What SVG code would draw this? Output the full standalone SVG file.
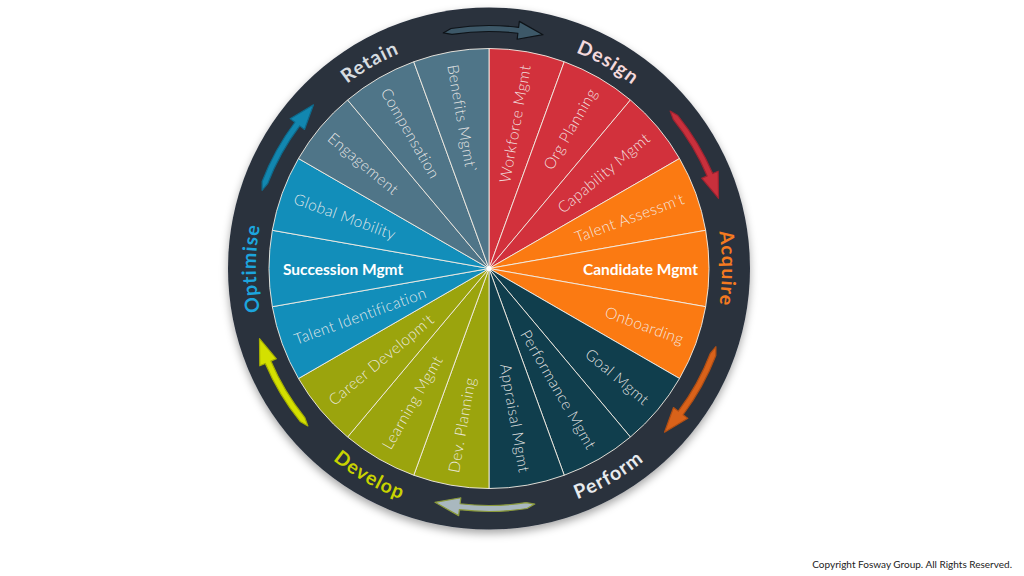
<svg xmlns="http://www.w3.org/2000/svg" xmlns:xlink="http://www.w3.org/1999/xlink" width="1024" height="576" viewBox="0 0 1024 576">
<defs>
<style>
.seg{stroke:#F4EEE6;stroke-width:1;stroke-opacity:0.9}
.lbl{font-family:Lato,"Open Sans",sans-serif;font-weight:300;font-size:15.5px;letter-spacing:0.4px;fill:#F4F0EE;fill-opacity:0.92;dominant-baseline:central}
.lblb{font-family:Lato,"Open Sans",sans-serif;font-weight:700;font-size:15.5px;fill:#FFFFFF;dominant-baseline:central}
.ring{font-family:Lato,"Open Sans",sans-serif;font-weight:700;font-size:19.5px;letter-spacing:1px}
.arw{stroke-width:1.2;stroke-linejoin:round}
</style>
<filter id="sh" x="-10%" y="-10%" width="120%" height="125%">
<feDropShadow dx="0" dy="4" stdDeviation="4" flood-color="#000" flood-opacity="0.35"/>
</filter>
<path id="arrow" d="M443.21,32.91 L450.99,28.49 A243,243 0 0 1 518.61,27.31 L519.35,21.36 L542.99,34.65 L517.15,39.22 L517.88,33.27 A237,237 0 0 0 451.93,34.42 Z"/>
<path id="pDesign" d="M489,35.5 A233,233 0 0 1 690.78,152"/>
<path id="pAcquire" d="M690.78,152 A233,233 0 0 1 690.78,385"/>
<path id="pOptimise" d="M287.22,385 A233,233 0 0 1 287.22,152"/>
<path id="pRetain" d="M287.22,152 A233,233 0 0 1 489,35.5"/>
<path id="pPerform" d="M489,515.5 A247,247 0 0 0 702.9,392"/>
<path id="pDevelop" d="M275.1,392 A247,247 0 0 0 489,515.5"/>
</defs>
<rect width="1024" height="576" fill="#FFFFFF"/>
<g id="ring">
<circle cx="489" cy="268.5" r="261" fill="#29313E" filter="url(#sh)"/>
</g>
<g id="design">
<path class="seg" fill="#D2313C" d="M489,268.5 L489,48.5 A220,220 0 0 1 564.24,61.77 Z"/>
<path class="seg" fill="#D2313C" d="M489,268.5 L564.24,61.77 A220,220 0 0 1 630.41,99.97 Z"/>
<path class="seg" fill="#D2313C" d="M489,268.5 L630.41,99.97 A220,220 0 0 1 679.53,158.5 Z"/>
<text class="lbl" x="696" y="268.5" text-anchor="end" transform="rotate(-80 489 268.5)">Workforce Mgmt</text>
<text class="lbl" x="696" y="268.5" text-anchor="end" transform="rotate(-60 489 268.5)">Org Planning</text>
<text class="lbl" x="696" y="268.5" text-anchor="end" transform="rotate(-40 489 268.5)">Capability Mgmt</text>
<text class="ring" fill="#F4D9DC" text-anchor="middle"><textPath href="#pDesign" startOffset="50%">Design</textPath></text>
</g>
<g id="acquire">
<path class="seg" fill="#FB7A12" d="M489,268.5 L679.53,158.5 A220,220 0 0 1 705.66,230.3 Z"/>
<path class="seg" fill="#FB7A12" d="M489,268.5 L705.66,230.3 A220,220 0 0 1 705.66,306.7 Z"/>
<path class="seg" fill="#FB7A12" d="M489,268.5 L705.66,306.7 A220,220 0 0 1 679.53,378.5 Z"/>
<text class="lbl" x="696" y="268.5" text-anchor="end" transform="rotate(-20 489 268.5)">Talent Assessm't</text>
<text class="lblb" x="698" y="268.5" text-anchor="end">Candidate Mgmt</text>
<text class="lbl" x="696" y="268.5" text-anchor="end" transform="rotate(20 489 268.5)">Onboarding</text>
<text class="ring" fill="#F47A20" text-anchor="middle"><textPath href="#pAcquire" startOffset="50%">Acquire</textPath></text>
</g>
<g id="perform">
<path class="seg" fill="#103E4D" d="M489,268.5 L679.53,378.5 A220,220 0 0 1 630.41,437.03 Z"/>
<path class="seg" fill="#103E4D" d="M489,268.5 L630.41,437.03 A220,220 0 0 1 564.24,475.23 Z"/>
<path class="seg" fill="#103E4D" d="M489,268.5 L564.24,475.23 A220,220 0 0 1 489,488.5 Z"/>
<text class="lbl" x="696" y="268.5" text-anchor="end" transform="rotate(40 489 268.5)">Goal Mgmt</text>
<text class="lbl" x="696" y="268.5" text-anchor="end" transform="rotate(60 489 268.5)">Performance Mgmt</text>
<text class="lbl" x="696" y="268.5" text-anchor="end" transform="rotate(80 489 268.5)">Appraisal Mgmt</text>
<text class="ring" fill="#E8EBEE" text-anchor="middle"><textPath href="#pPerform" startOffset="50%">Perform</textPath></text>
</g>
<g id="develop">
<path class="seg" fill="#9BA40D" d="M489,268.5 L489,488.5 A220,220 0 0 1 413.76,475.23 Z"/>
<path class="seg" fill="#9BA40D" d="M489,268.5 L413.76,475.23 A220,220 0 0 1 347.59,437.03 Z"/>
<path class="seg" fill="#9BA40D" d="M489,268.5 L347.59,437.03 A220,220 0 0 1 298.47,378.5 Z"/>
<text class="lbl" x="282" y="268.5" text-anchor="start" transform="rotate(-80 489 268.5)">Dev. Planning</text>
<text class="lbl" x="282" y="268.5" text-anchor="start" transform="rotate(-60 489 268.5)">Learning Mgmt</text>
<text class="lbl" x="282" y="268.5" text-anchor="start" transform="rotate(-40 489 268.5)">Career Developm't</text>
<text class="ring" fill="#C8D300" text-anchor="middle"><textPath href="#pDevelop" startOffset="50%">Develop</textPath></text>
</g>
<g id="optimise">
<path class="seg" fill="#128EBA" d="M489,268.5 L298.47,378.5 A220,220 0 0 1 272.34,306.7 Z"/>
<path class="seg" fill="#128EBA" d="M489,268.5 L272.34,306.7 A220,220 0 0 1 272.34,230.3 Z"/>
<path class="seg" fill="#128EBA" d="M489,268.5 L272.34,230.3 A220,220 0 0 1 298.47,158.5 Z"/>
<text class="lbl" x="282" y="268.5" text-anchor="start" transform="rotate(-20 489 268.5)">Talent Identification</text>
<text class="lblb" x="283" y="268.5" text-anchor="start">Succession Mgmt</text>
<text class="lbl" x="282" y="268.5" text-anchor="start" transform="rotate(20 489 268.5)">Global Mobility</text>
<text class="ring" fill="#1CA5DD" text-anchor="middle"><textPath href="#pOptimise" startOffset="50%">Optimise</textPath></text>
</g>
<g id="retain">
<path class="seg" fill="#4F7588" d="M489,268.5 L298.47,158.5 A220,220 0 0 1 347.59,99.97 Z"/>
<path class="seg" fill="#4F7588" d="M489,268.5 L347.59,99.97 A220,220 0 0 1 413.76,61.77 Z"/>
<path class="seg" fill="#4F7588" d="M489,268.5 L413.76,61.77 A220,220 0 0 1 489,48.5 Z"/>
<text class="lbl" x="282" y="268.5" text-anchor="start" transform="rotate(40 489 268.5)">Engagement</text>
<text class="lbl" x="282" y="268.5" text-anchor="start" transform="rotate(60 489 268.5)">Compensation</text>
<text class="lbl" x="282" y="268.5" text-anchor="start" transform="rotate(80 489 268.5)">Benefits Mgmt`</text>
<text class="ring" fill="#D6DCE0" text-anchor="middle"><textPath href="#pRetain" startOffset="50%">Retain</textPath></text>
</g>
<circle cx="489" cy="268.5" r="2.5" fill="#FFFFFF"/>
<g id="connectors">
<use href="#arrow" class="arw" fill="#3D5868" stroke="#0E1318"/>
<use href="#arrow" class="arw" fill="#C9303C" stroke="#9E2330" transform="rotate(60 489 268.5)"/>
<use href="#arrow" class="arw" fill="#D9621A" stroke="#B04E14" transform="rotate(120 489 268.5)"/>
<use href="#arrow" class="arw" fill="#A9B8BF" stroke="#8A9A3A" transform="rotate(180 489 268.5)"/>
<use href="#arrow" class="arw" fill="#D4E000" stroke="#A6B000" transform="rotate(240 489 268.5)"/>
<use href="#arrow" class="arw" fill="#1287B0" stroke="#0E6A8C" transform="rotate(300 489 268.5)"/>
</g>
<text x="1012" y="568" text-anchor="end" font-family="Lato, 'Open Sans', sans-serif" font-size="10" fill="#222222">Copyright Fosway Group. All Rights Reserved.</text>
</svg>
